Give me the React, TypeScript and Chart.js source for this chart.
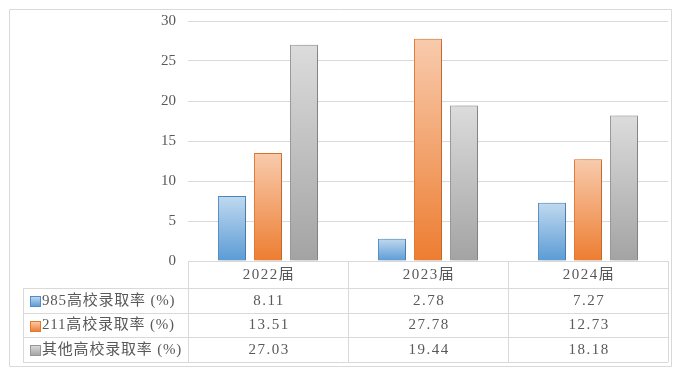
import React, { useEffect, useRef } from "react";
import { Chart, registerables } from "chart.js";

Chart.register(...registerables);

const categories = ["2022届", "2023届", "2024届"];
const seriesNames = ["985高校录取率 (%)", "211高校录取率 (%)", "其他高校录取率 (%)"];
const rate985 = [8.11, 2.78, 7.27];
const rate211 = [13.51, 27.78, 12.73];
const rateOther = [27.03, 19.44, 18.18];
const yMin = 0;
const yMax = 30;
const yStep = 5;

const palette = [
  { top: "#C0D9EF", bottom: "#5B9BD5", border: "#4F8DC9" },
  { top: "#F8CBAD", bottom: "#ED7D31", border: "#E8772C" },
  { top: "#DCDCDC", bottom: "#A3A3A3", border: "#979797" },
];

const FONT = '"Liberation Serif", "Noto Sans CJK SC", serif';
const TEXT = "#595959";
const LINE = "#D9D9D9";

function gradientFill(top: string, bottom: string) {
  return (c: any) => {
    const chart = c.chart;
    const y = chart.scales && chart.scales.y;
    if (!y || c.type !== "data" || !chart.chartArea) return bottom;
    const y0 = y.getPixelForValue(c.raw as number);
    const y1 = y.getPixelForValue(0);
    if (!isFinite(y0) || !isFinite(y1) || y0 === y1) return bottom;
    const g = chart.ctx.createLinearGradient(0, y0, 0, y1);
    g.addColorStop(0, top);
    g.addColorStop(1, bottom);
    return g;
  };
}

const shadowPlugin = {
  id: "barShadow",
  beforeDatasetsDraw(chart: any) {
    const ctx = chart.ctx;
    ctx.save();
    ctx.shadowColor = "rgba(0,0,0,0.22)";
    ctx.shadowBlur = 6;
    ctx.shadowOffsetX = 3;
    ctx.shadowOffsetY = 1;
  },
  afterDatasetsDraw(chart: any) {
    chart.ctx.restore();
  },
};

const tablePlugin = {
  id: "dataTable",
  afterDraw(chart: any) {
    const ctx = chart.ctx as CanvasRenderingContext2D;
    const area = chart.chartArea;
    const xs = chart.scales.x;
    const n = categories.length;
    const colW = (area.right - area.left) / n;
    const colEdges: number[] = [];
    for (let i = 0; i <= n; i++) colEdges.push(area.left + colW * i);
    const headerTop = area.bottom;
    const headerH = 27;
    const rowH = 24.7;
    const tableLeft = 23;
    const rowTops: number[] = [];
    for (let r = 0; r <= seriesNames.length; r++) rowTops.push(headerTop + headerH + rowH * r);
    const tableBottom = rowTops[rowTops.length - 1];

    ctx.save();
    ctx.strokeStyle = LINE;
    ctx.lineWidth = 1;
    ctx.beginPath();
    // outer border
    ctx.rect(9.5, 9.5, 662, 357);
    // header top line
    ctx.moveTo(area.left, Math.round(headerTop) + 0.5);
    ctx.lineTo(area.right, Math.round(headerTop) + 0.5);
    // row lines
    rowTops.forEach((y) => {
      ctx.moveTo(tableLeft, Math.round(y) + 0.5);
      ctx.lineTo(area.right, Math.round(y) + 0.5);
    });
    // column lines
    colEdges.forEach((x) => {
      ctx.moveTo(Math.round(x) + 0.5, headerTop);
      ctx.lineTo(Math.round(x) + 0.5, tableBottom);
    });
    ctx.moveTo(tableLeft + 0.5, rowTops[0]);
    ctx.lineTo(tableLeft + 0.5, tableBottom);
    ctx.stroke();

    ctx.fillStyle = TEXT;
    ctx.font = "15px " + FONT;
    ctx.textBaseline = "middle";
    (ctx as any).letterSpacing = "1.5px";
    ctx.textAlign = "center";
    categories.forEach((cat, i) => {
      const cx = xs.getPixelForValue(i);
      ctx.fillText(cat, cx + 1, headerTop + headerH / 2 + 0.5);
    });
    const series = [rate985, rate211, rateOther];
    series.forEach((vals, r) => {
      const cy = rowTops[r] + rowH / 2 + 0.5;
      vals.forEach((v, i) => {
        const cx = xs.getPixelForValue(i);
        ctx.fillStyle = TEXT;
        ctx.fillText(v.toFixed(2), cx + 1, cy);
      });
      // legend key
      const p = palette[r];
      const kx = 30.5;
      const ky = Math.round(cy - 5) + 0.5;
      const g = ctx.createLinearGradient(0, ky, 0, ky + 10);
      g.addColorStop(0, p.top);
      g.addColorStop(1, p.bottom);
      ctx.fillStyle = g;
      ctx.fillRect(kx, ky, 10, 10);
      ctx.strokeStyle = p.border;
      ctx.strokeRect(kx, ky, 10, 10);
      ctx.fillStyle = TEXT;
      ctx.textAlign = "left";
      (ctx as any).letterSpacing = "0.8px";
      ctx.fillText(seriesNames[r], 42, cy);
      (ctx as any).letterSpacing = "1.5px";
      ctx.textAlign = "center";
    });
    ctx.restore();
  },
};

export default function App() {
  const ref = useRef<HTMLCanvasElement | null>(null);
  useEffect(() => {
    if (!ref.current) return;
    const series = [rate985, rate211, rateOther];
    const chart = new Chart(ref.current, {
      type: "bar",
      data: {
        labels: categories,
        datasets: series.map((vals, i) => ({
          label: seriesNames[i],
          data: vals,
          backgroundColor: gradientFill(palette[i].top, palette[i].bottom) as any,
          borderColor: palette[i].border,
          borderWidth: 1,
          categoryPercentage: 0.675,
          barPercentage: 0.78,
        })),
      },
      options: {
        responsive: false,
        animation: false,
        layout: { padding: { top: 21, right: 15, bottom: 115, left: 0 } },
        plugins: { legend: { display: false }, tooltip: { enabled: false } },
        scales: {
          x: { display: false },
          y: {
            min: yMin,
            max: yMax,
            ticks: {
              stepSize: yStep,
              padding: 12,
              color: TEXT,
              font: { family: FONT, size: 15 },
            },
            border: { display: false },
            grid: { color: LINE, drawTicks: false, lineWidth: 1 },
            afterFit: (axis: any) => {
              axis.width = 188;
            },
          },
        },
      },
      plugins: [shadowPlugin, tablePlugin],
    });
    return () => chart.destroy();
  }, []);
  return (
    <div style={{ position: "fixed", left: 0, top: 0, width: 683, height: 376, background: "#fff" }}>
      <canvas ref={ref} width={683} height={376} style={{ display: "block" }} />
    </div>
  );
}
